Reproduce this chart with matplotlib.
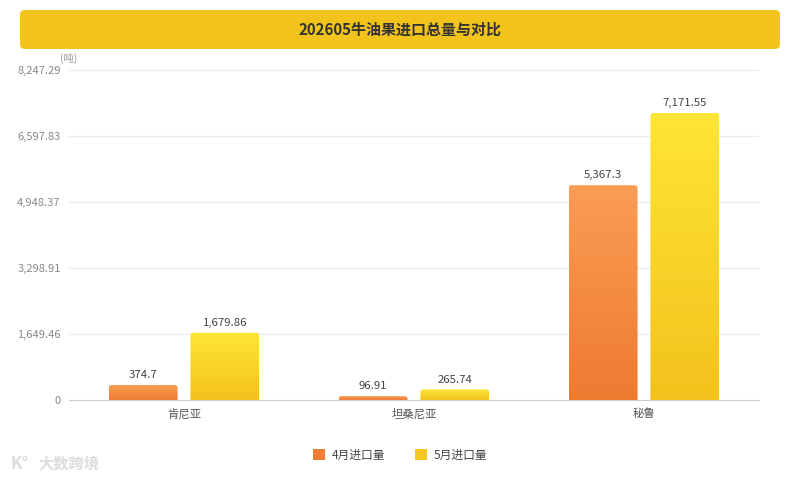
import numpy as np
import matplotlib
matplotlib.use("Agg")
import matplotlib.pyplot as plt
from matplotlib.patches import FancyBboxPatch
from matplotlib.colors import LinearSegmentedColormap

plt.rcParams['font.family'] = ['Noto Sans CJK SC', 'DejaVu Sans']

# 数据
countries = ['肯尼亚', '坦桑尼亚', '秘鲁']
april = [374.7, 96.91, 5367.3]
may = [1679.86, 265.74, 7171.55]
series_names = ['4月进口量', '5月进口量']
yticks = [0, 1649.46, 3298.91, 4948.37, 6597.83, 8247.29]
title = '202605牛油果进口总量与对比'

fig = plt.figure(figsize=(8, 4.8), dpi=100)

# 标题栏
tax = fig.add_axes([0, 0, 1, 1])
tax.set_xlim(0, 800)
tax.set_ylim(480, 0)
tax.axis('off')
tax.add_patch(FancyBboxPatch((20, 10), 760, 39, boxstyle='round,pad=0,rounding_size=5',
                             fc='#F2C41B', ec='none'))
tax.text(400, 30, title, ha='center', va='center', fontsize=10.8, fontweight='bold', color='#333333')
tax.text(60, 58, '(吨)', ha='left', va='center', fontsize=7.5, color='#999999')
tax.text(38, 464, '大数跨境', ha='left', va='center', fontsize=11, fontweight='bold', color='#DCDCDC')
tax.text(10, 464, 'K°', ha='left', va='center', fontsize=12, fontweight='bold', color='#DCDCDC')

ax = fig.add_axes([69/800, 80/480, 690/800, 330/480])
ax.set_xlim(-0.5, 2.5)
ax.set_ylim(0, 8247.29)

x = np.arange(len(countries))
w = 0.30
off = 0.178
b1 = ax.bar(x - off, april, w, color='none', label=series_names[0])
b2 = ax.bar(x + off, may, w, color='none', label=series_names[1])

cm_orange = LinearSegmentedColormap.from_list('o', ['#EE7A30', '#FB9D55'])
cm_yellow = LinearSegmentedColormap.from_list('y', ['#F3C21C', '#FEE536'])
grad = np.linspace(0, 1, 256).reshape(-1, 1)
aspect = (8247.29 / 330) / (3 / 690)
for bars, cmap in [(b1, cm_orange), (b2, cm_yellow)]:
    for r in bars:
        x0, h, bw = r.get_x(), r.get_height(), r.get_width()
        clip = FancyBboxPatch((x0, -400), bw, h + 400,
                              boxstyle='round,pad=0,rounding_size=0.012',
                              mutation_aspect=aspect, fc='none', ec='none',
                              transform=ax.transData)
        ax.add_patch(clip)
        im = ax.imshow(grad, cmap=cmap, origin='lower', aspect='auto',
                       extent=(x0, x0 + bw, 0, h), zorder=2)
        im.set_clip_path(clip)
        ax.text(x0 + bw / 2, h + 120, f'{h:,.2f}'.rstrip('0').rstrip('.'),
                ha='center', va='bottom', fontsize=8.2, color='#444444')

ax.set_xlim(-0.5, 2.5)
ax.set_ylim(0, 8247.29)
ax.set_yticks(yticks)
ax.set_yticklabels([f'{v:,.2f}'.rstrip('0').rstrip('.') if v else '0' for v in yticks])
ax.set_xticks(x)
ax.set_xticklabels(countries)
ax.tick_params(axis='y', length=0, pad=6, labelsize=8, labelcolor='#888888')
ax.tick_params(axis='x', length=0, pad=6, labelsize=8.2, labelcolor='#555555')
ax.grid(axis='y', color='#EBEBEB', linewidth=0.8)
ax.set_axisbelow(True)
for s in ['top', 'right', 'left']:
    ax.spines[s].set_visible(False)
ax.spines['bottom'].set_color('#CCCCCC')

# 图例
handles = [plt.Rectangle((0, 0), 1, 1, fc='#EE7E33'), plt.Rectangle((0, 0), 1, 1, fc='#F5C81F')]
fig.legend(handles, series_names, loc='center', bbox_to_anchor=(0.5, 25/480), ncol=2,
           frameon=False, fontsize=8.5, handlelength=1.0, handleheight=1.0,
           columnspacing=2.5, handletextpad=0.6, labelcolor='#444444')

fig.savefig('out.png', dpi=100)
